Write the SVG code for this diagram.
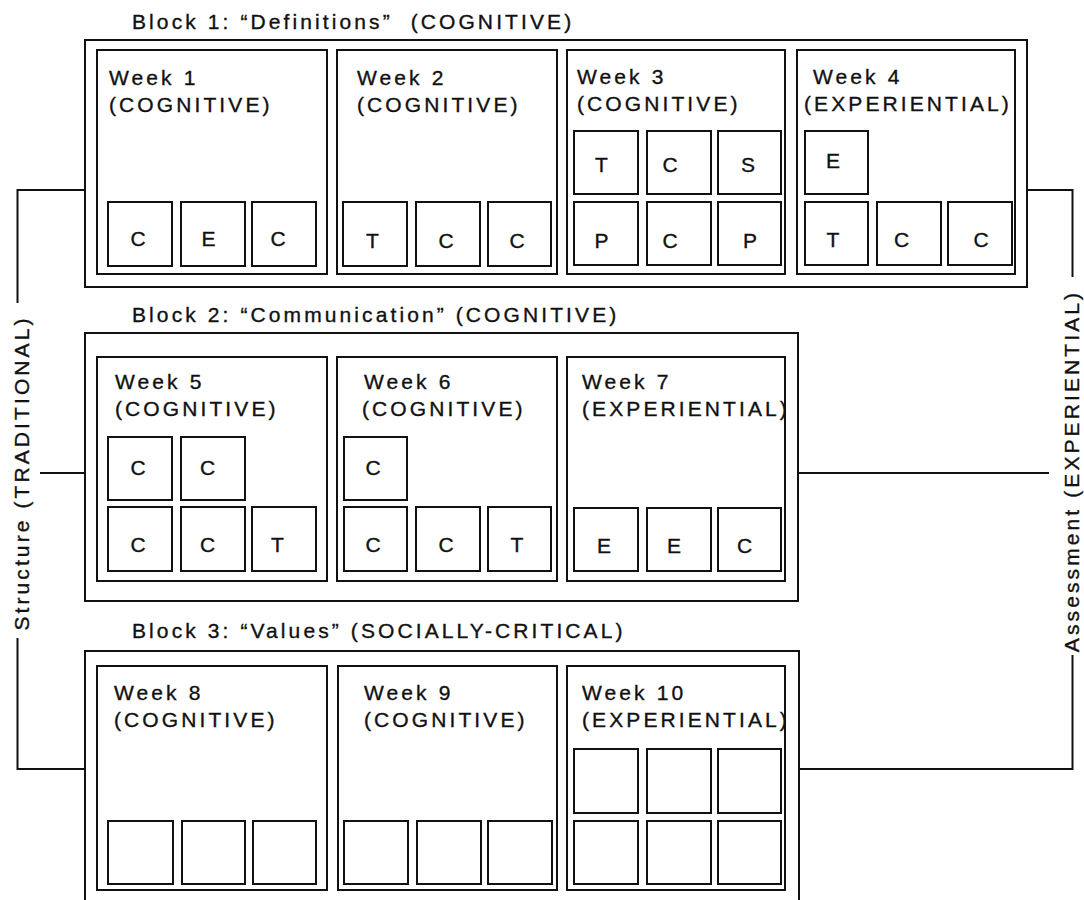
<svg xmlns="http://www.w3.org/2000/svg" width="1084" height="900" viewBox="0 0 1084 900">
<style>
  .blk{fill:none;stroke:#111;stroke-width:2}
  .wk{fill:none;stroke:#111;stroke-width:2}
  .bx{fill:none;stroke:#111;stroke-width:2}
  .con{fill:none;stroke:#111;stroke-width:2}
  .t{font-family:"Liberation Sans",Arial,sans-serif;font-size:21px;letter-spacing:3.1px;fill:#111;stroke:#111;stroke-width:0.35}
  .l{font-family:"Liberation Sans",Arial,sans-serif;font-size:21px;fill:#111;stroke:#111;stroke-width:0.35;text-anchor:middle}
</style>
<rect width="1084" height="900" fill="#fff"/>

<g id="block1">
  <text class="t" x="132" y="29" xml:space="preserve">Block 1: “Definitions”  (COGNITIVE)</text>
  <rect class="blk" x="85" y="40" width="942" height="247"/>
  <g id="week1">
    <rect class="wk" x="97" y="50" width="230" height="224"/>
    <text class="t" x="109" y="85">Week 1</text>
    <text class="t" x="109" y="112">(COGNITIVE)</text>
    <rect class="bx" x="108" y="202" width="64" height="64"/><text class="l" x="138" y="246">C</text>
    <rect class="bx" x="181" y="202" width="64" height="64"/><text class="l" x="208.5" y="246">E</text>
    <rect class="bx" x="252" y="202" width="64" height="64"/><text class="l" x="278" y="246">C</text>
  </g>
  <g id="week2">
    <rect class="wk" x="337" y="50" width="220" height="224"/>
    <text class="t" x="357" y="85">Week 2</text>
    <text class="t" x="357" y="112">(COGNITIVE)</text>
    <rect class="bx" x="343" y="202" width="64" height="64"/><text class="l" x="372.5" y="248">T</text>
    <rect class="bx" x="416" y="202" width="64" height="64"/><text class="l" x="446" y="248">C</text>
    <rect class="bx" x="488" y="202" width="63" height="64"/><text class="l" x="517" y="248">C</text>
  </g>
  <g id="week3">
    <rect class="wk" x="567" y="50" width="218" height="224"/>
    <text class="t" x="577" y="84">Week 3</text>
    <text class="t" x="577" y="111">(COGNITIVE)</text>
    <rect class="bx" x="574" y="131" width="64" height="63"/><text class="l" x="601.5" y="172">T</text>
    <rect class="bx" x="647" y="131" width="64" height="63"/><text class="l" x="670" y="172">C</text>
    <rect class="bx" x="718" y="131" width="63" height="63"/><text class="l" x="748" y="172">S</text>
    <rect class="bx" x="574" y="202" width="64" height="63"/><text class="l" x="601.5" y="248">P</text>
    <rect class="bx" x="647" y="202" width="64" height="63"/><text class="l" x="670" y="248">C</text>
    <rect class="bx" x="718" y="202" width="63" height="63"/><text class="l" x="750" y="248">P</text>
  </g>
  <g id="week4">
    <rect class="wk" x="797" y="50" width="218" height="224"/>
    <text class="t" x="813" y="84">Week 4</text>
    <text class="t" x="804" y="111">(EXPERIENTIAL)</text>
    <rect class="bx" x="805" y="131" width="63" height="63"/><text class="l" x="833" y="168">E</text>
    <rect class="bx" x="805" y="202" width="63" height="63"/><text class="l" x="833" y="247">T</text>
    <rect class="bx" x="877" y="202" width="64" height="63"/><text class="l" x="901.5" y="247">C</text>
    <rect class="bx" x="948" y="202" width="64" height="63"/><text class="l" x="981" y="247">C</text>
  </g>
</g>

<g id="block2">
  <text class="t" x="132" y="322">Block 2: “Communication” (COGNITIVE)</text>
  <rect class="blk" x="85" y="333" width="713" height="268"/>
  <g id="week5">
    <rect class="wk" x="97" y="357" width="230" height="224"/>
    <text class="t" x="115" y="389">Week 5</text>
    <text class="t" x="115" y="416">(COGNITIVE)</text>
    <rect class="bx" x="108" y="437" width="64" height="63"/><text class="l" x="138" y="475">C</text>
    <rect class="bx" x="181" y="437" width="64" height="63"/><text class="l" x="207.5" y="475">C</text>
    <rect class="bx" x="108" y="507" width="64" height="64"/><text class="l" x="138" y="552">C</text>
    <rect class="bx" x="181" y="507" width="64" height="64"/><text class="l" x="207.5" y="552">C</text>
    <rect class="bx" x="252" y="507" width="64" height="64"/><text class="l" x="277.5" y="552">T</text>
  </g>
  <g id="week6">
    <rect class="wk" x="337" y="357" width="220" height="224"/>
    <text class="t" x="364" y="389">Week 6</text>
    <text class="t" x="362" y="416">(COGNITIVE)</text>
    <rect class="bx" x="344" y="437" width="63" height="63"/><text class="l" x="373" y="475">C</text>
    <rect class="bx" x="344" y="507" width="63" height="64"/><text class="l" x="373" y="552">C</text>
    <rect class="bx" x="416" y="507" width="64" height="64"/><text class="l" x="446" y="552">C</text>
    <rect class="bx" x="488" y="507" width="63" height="64"/><text class="l" x="517" y="552">T</text>
  </g>
  <g id="week7">
    <rect class="wk" x="567" y="357" width="218" height="224"/>
    <text class="t" x="582" y="389">Week 7</text>
    <text class="t" x="582" y="416">(EXPERIENTIAL)</text>
    <rect class="bx" x="574" y="508" width="64" height="63"/><text class="l" x="604" y="553">E</text>
    <rect class="bx" x="647" y="508" width="64" height="63"/><text class="l" x="674" y="553">E</text>
    <rect class="bx" x="718" y="508" width="63" height="63"/><text class="l" x="744.5" y="553">C</text>
  </g>
</g>

<g id="block3">
  <text class="t" x="132" y="638">Block 3: “Values” (SOCIALLY-CRITICAL)</text>
  <rect class="blk" x="85" y="651" width="714" height="262"/>
  <g id="week8">
    <rect class="wk" x="97" y="666" width="230" height="224"/>
    <text class="t" x="114" y="700">Week 8</text>
    <text class="t" x="114" y="727">(COGNITIVE)</text>
    <rect class="bx" x="108" y="821" width="65" height="63"/>
    <rect class="bx" x="182" y="821" width="63" height="63"/>
    <rect class="bx" x="253" y="821" width="63" height="63"/>
  </g>
  <g id="week9">
    <rect class="wk" x="338" y="666" width="219" height="224"/>
    <text class="t" x="364" y="700">Week 9</text>
    <text class="t" x="364" y="727">(COGNITIVE)</text>
    <rect class="bx" x="344" y="821" width="64" height="63"/>
    <rect class="bx" x="417" y="821" width="64" height="63"/>
    <rect class="bx" x="488" y="821" width="64" height="63"/>
  </g>
  <g id="week10">
    <rect class="wk" x="567" y="666" width="218" height="224"/>
    <text class="t" x="582" y="700">Week 10</text>
    <text class="t" x="582" y="727">(EXPERIENTIAL)</text>
    <rect class="bx" x="574" y="749" width="64" height="64"/>
    <rect class="bx" x="647" y="749" width="64" height="64"/>
    <rect class="bx" x="718" y="749" width="63" height="64"/>
    <rect class="bx" x="574" y="821" width="64" height="63"/>
    <rect class="bx" x="647" y="821" width="64" height="63"/>
    <rect class="bx" x="718" y="821" width="63" height="63"/>
  </g>
</g>

<g id="connectors">
  <path class="con" d="M85,190 H17.5 V303"/>
  <path class="con" d="M17.5,638 V769 H85"/>
  <path class="con" d="M40,473 H85"/>
  <path class="con" d="M1027,190 H1072.5 V277"/>
  <path class="con" d="M1072.5,655 V769 H799"/>
  <path class="con" d="M798,473 H1049"/>
</g>

<g id="structure-label">
  <text class="t" text-anchor="middle" transform="translate(29,473) rotate(-90)">Structure (TRADITIONAL)</text>
</g>
<g id="assessment-label">
  <text class="t" text-anchor="middle" transform="translate(1079,471) rotate(-90)">Assessment (EXPERIENTIAL)</text>
</g>
</svg>
